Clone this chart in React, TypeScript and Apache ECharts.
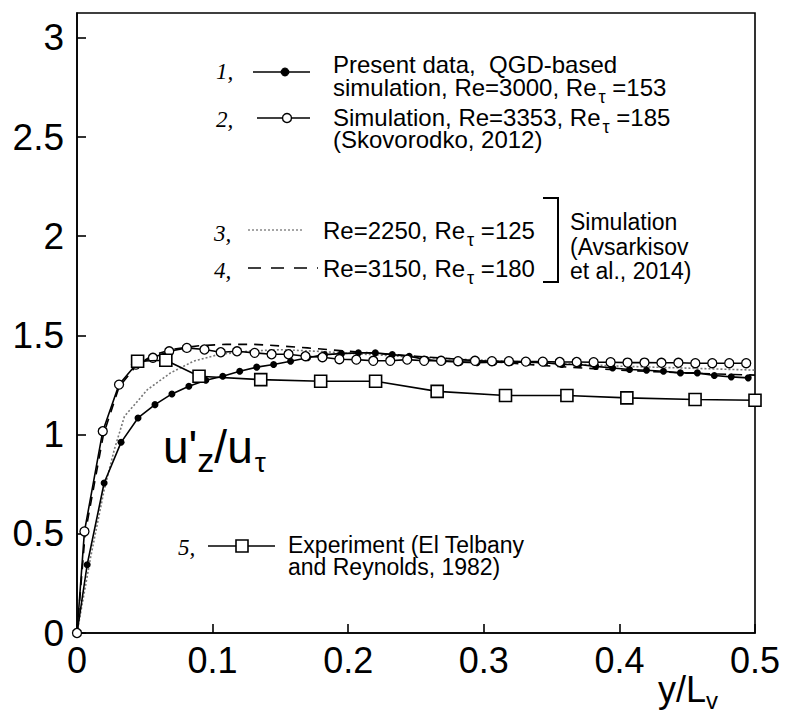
import React, { useEffect, useRef } from "react";
import * as echarts from "echarts";

// ---- data ----
// Series 1: present data (filled dots)
const s1X = [0, 0.0075, 0.02, 0.0325, 0.045, 0.0575, 0.07, 0.0825, 0.095, 0.1075, 0.12, 0.1325, 0.145, 0.1575, 0.17, 0.1825, 0.195, 0.2075, 0.22, 0.2325, 0.245, 0.2575, 0.27, 0.2825, 0.295, 0.3075, 0.32, 0.3325, 0.345, 0.3575, 0.37, 0.3825, 0.395, 0.4075, 0.42, 0.4325, 0.445, 0.4575, 0.47, 0.4825, 0.495];
const s1Y = [0, 0.344, 0.756, 0.961, 1.084, 1.151, 1.205, 1.244, 1.274, 1.294, 1.319, 1.34, 1.353, 1.37, 1.387, 1.403, 1.408, 1.412, 1.412, 1.403, 1.395, 1.378, 1.37, 1.365, 1.362, 1.365, 1.365, 1.365, 1.362, 1.353, 1.353, 1.344, 1.336, 1.328, 1.324, 1.319, 1.311, 1.311, 1.298, 1.291, 1.286];
// Series 2: Skovorodko 2012 (open circles)
const s2X = [0, 0.0055, 0.019, 0.031, 0.0435, 0.056, 0.068, 0.081, 0.094, 0.106, 0.118, 0.131, 0.1435, 0.156, 0.1685, 0.181, 0.1935, 0.206, 0.2185, 0.231, 0.2435, 0.256, 0.2685, 0.281, 0.2935, 0.306, 0.3185, 0.331, 0.3435, 0.356, 0.3685, 0.381, 0.3935, 0.406, 0.4185, 0.431, 0.4435, 0.456, 0.4685, 0.481, 0.4935];
const s2Y = [0, 0.512, 1.017, 1.252, 1.353, 1.387, 1.42, 1.437, 1.429, 1.415, 1.42, 1.412, 1.405, 1.405, 1.395, 1.39, 1.38, 1.378, 1.372, 1.372, 1.378, 1.372, 1.372, 1.37, 1.372, 1.37, 1.37, 1.368, 1.368, 1.366, 1.366, 1.365, 1.365, 1.363, 1.363, 1.362, 1.362, 1.36, 1.36, 1.36, 1.36];
// Series 3: Avsarkisov Re=2250 (dotted)
const s3X = [0, 0.01, 0.02, 0.0275, 0.035, 0.052, 0.069, 0.086, 0.104, 0.125, 0.15, 0.177, 0.2, 0.25, 0.3, 0.35, 0.4, 0.45, 0.5];
const s3Y = [0, 0.38, 0.72, 0.924, 1.092, 1.227, 1.311, 1.37, 1.403, 1.42, 1.428, 1.42, 1.41, 1.39, 1.375, 1.36, 1.345, 1.335, 1.325];
// Series 4: Avsarkisov Re=3150 (dashed)
const s4X = [0, 0.006, 0.0195, 0.031, 0.044, 0.056, 0.07, 0.09, 0.11, 0.13, 0.15, 0.17, 0.2, 0.25, 0.3, 0.35, 0.4, 0.45, 0.5];
const s4Y = [0, 0.5, 1.0, 1.24, 1.35, 1.4, 1.43, 1.448, 1.455, 1.455, 1.447, 1.437, 1.42, 1.395, 1.37, 1.345, 1.325, 1.31, 1.3];
// Series 5: experiment (open squares)
const s5X = [0.0447, 0.0655, 0.09, 0.1355, 0.1797, 0.2202, 0.2656, 0.316, 0.3613, 0.4055, 0.4558, 0.5];
const s5Y = [1.37, 1.375, 1.294, 1.277, 1.269, 1.269, 1.218, 1.197, 1.197, 1.185, 1.177, 1.173];

const xMin = 0, xMax = 0.5, xStep = 0.1;
const yMin = 0, yMax = 3.125, yStep = 0.5;

const legendTexts = {
  l1a: "Present data,  QGD-based",
  l1b: ["simulation, Re=3000, Re", "τ", " =153"],
  l2a: ["Simulation, Re=3353, Re", "τ", " =185"],
  l2b: "(Skovorodko, 2012)",
  l3: ["Re=2250, Re", "τ", " =125"],
  l4: ["Re=3150, Re", "τ", " =180"],
  br1: "Simulation",
  br2: "(Avsarkisov",
  br3: "et al., 2014)",
  l5a: "Experiment (El Telbany",
  l5b: "and Reynolds, 1982)",
};

const zip = (xs: number[], ys: number[]) => xs.map((x, i) => [x, ys[i]]);

const SANS = '"Liberation Sans", Arial, Helvetica, sans-serif';
const SERIF = '"Liberation Serif", "Times New Roman", serif';

function txt(x: number, y: number, text: string, extra: any = {}) {
  return {
    type: "text",
    x,
    y,
    silent: true,
    style: {
      text,
      fill: "#000",
      fontSize: 23,
      fontFamily: SANS,
      align: "left",
      textAlign: "left",
      verticalAlign: "middle",
      textVerticalAlign: "middle",
      ...extra,
    },
  };
}

function subTxt(x: number, y: number, parts: string[], size = 24, subSize = 18, pad = 20) {
  const text = `{a|${parts[0]}}{s|${parts[1]}}{a|${parts[2]}}`;
  return txt(x, y, text, {
    fontSize: size,
    lineHeight: size,
    rich: {
      a: { fontSize: size, fontFamily: SANS, fill: "#000", lineHeight: size },
      s: { fontSize: subSize, fontFamily: SANS, fill: "#000", padding: [pad, 0, 0, 2], lineHeight: size },
    },
  });
}

function num(x: number, y: number, t: string) {
  return txt(x, y, t, { fontFamily: SERIF, fontStyle: "italic", fontSize: 23 });
}

function seg(x1: number, y1: number, x2: number, y2: number, style: any = {}) {
  return {
    type: "line",
    silent: true,
    shape: { x1, y1, x2, y2 },
    style: { stroke: "#000", lineWidth: 1.6, ...style },
  };
}

export default function App() {
  const ref = useRef<HTMLDivElement>(null);
  useEffect(() => {
    if (!ref.current) return;
    const chart = echarts.init(ref.current, undefined, { renderer: "svg" });
    const axisCommon = {
      type: "value",
      axisLine: { show: true, lineStyle: { color: "#000", width: 1.6 } },
      axisTick: { show: true, inside: true, length: 9, lineStyle: { color: "#000", width: 1.6 } },
      splitLine: { show: false },
    };
    const option: any = {
      animation: false,
      backgroundColor: "#fff",
      grid: {
        left: 77,
        right: 30,
        top: 13,
        bottom: 80,
        show: true,
        borderColor: "#000",
        borderWidth: 1.6,
        backgroundColor: "transparent",
      },
      xAxis: {
        ...axisCommon,
        min: xMin,
        max: xMax,
        interval: xStep,
        axisLabel: {
          color: "#000",
          fontSize: 36,
          fontFamily: SANS,
          margin: 9,
          formatter: (v: number) => String(+v.toFixed(1)),
        },
      },
      yAxis: {
        ...axisCommon,
        min: yMin,
        max: yMax,
        interval: yStep,
        axisLabel: {
          color: "#000",
          fontSize: 37,
          fontFamily: SANS,
          margin: 13,
          showMaxLabel: false,
          formatter: (v: number) =>
            Math.abs(v / yStep - Math.round(v / yStep)) < 1e-6 ? String(+v.toFixed(1)) : "",
        },
      },
      series: [
        {
          type: "line",
          data: zip(s3X, s3Y),
          symbol: "none",
          silent: true,
          lineStyle: { color: "#777", width: 1.6, type: [2, 2] },
          z: 2,
        },
        {
          type: "line",
          data: zip(s4X, s4Y),
          symbol: "none",
          silent: true,
          lineStyle: { color: "#000", width: 1.6, type: [9, 7] },
          z: 2,
        },
        {
          type: "line",
          data: zip(s1X, s1Y),
          symbol: "circle",
          symbolSize: 7,
          silent: true,
          itemStyle: { color: "#000" },
          lineStyle: { color: "#000", width: 1.6 },
          z: 3,
        },
        {
          type: "line",
          data: zip(s2X, s2Y),
          symbol: "circle",
          symbolSize: 9,
          silent: true,
          itemStyle: { color: "#fff", borderColor: "#000", borderWidth: 1.3 },
          lineStyle: { color: "#000", width: 1.6 },
          z: 4,
        },
        {
          type: "line",
          data: zip(s5X, s5Y),
          symbol: "rect",
          symbolSize: 12,
          silent: true,
          itemStyle: { color: "#fff", borderColor: "#000", borderWidth: 1.6 },
          lineStyle: { color: "#000", width: 1.6 },
          z: 5,
        },
      ],
      graphic: [
        // legend 1
        num(216, 71, "1,"),
        seg(253, 72, 310, 72),
        { type: "circle", silent: true, shape: { cx: 285, cy: 72, r: 4 }, style: { fill: "#000", stroke: "#000" } },
        txt(333, 64, legendTexts.l1a, { fontSize: 24 }),
        subTxt(333, 87, legendTexts.l1b),
        // legend 2
        num(216, 119, "2,"),
        seg(257, 118, 310, 118),
        { type: "circle", silent: true, shape: { cx: 287, cy: 118, r: 4.5 }, style: { fill: "#fff", stroke: "#000", lineWidth: 1.4 } },
        subTxt(333, 117, legendTexts.l2a),
        txt(333, 139, legendTexts.l2b, { fontSize: 24 }),
        // legend 3
        num(214, 233, "3,"),
        seg(248, 230, 303, 230, { stroke: "#888", lineWidth: 1.4, lineDash: [2, 2] }),
        subTxt(323, 230, legendTexts.l3),
        // legend 4
        num(214, 270, "4,"),
        seg(248, 268, 318, 268, { lineDash: [13, 10] }),
        subTxt(323, 268, legendTexts.l4),
        // bracket
        {
          type: "polyline",
          silent: true,
          shape: { points: [[543, 198], [558, 198], [558, 282], [543, 282]] },
          style: { stroke: "#000", lineWidth: 2, fill: null },
        },
        txt(570, 222, legendTexts.br1),
        txt(570, 247, legendTexts.br2),
        txt(570, 271, legendTexts.br3),
        // legend 5
        num(178, 547, "5,"),
        seg(208, 546, 275, 546),
        { type: "rect", silent: true, shape: { x: 236, y: 540, width: 12, height: 12 }, style: { fill: "#fff", stroke: "#000", lineWidth: 1.6 } },
        txt(288, 545, legendTexts.l5a),
        txt(288, 567, legendTexts.l5b),
        // y-axis quantity label
        txt(163, 447, "{u|u'}{z|z}{u|/u}{t|τ}", {
          fontSize: 46,
          lineHeight: 46,
          rich: {
            u: { fontSize: 46, fontFamily: SANS, fill: "#000", lineHeight: 46 },
            z: { fontSize: 34, fontFamily: SANS, fill: "#000", padding: [26, 0, 0, 0], lineHeight: 46 },
            t: { fontSize: 28, fontFamily: SANS, fill: "#000", padding: [30, 0, 0, 2], lineHeight: 46 },
          },
        }),
        // x-axis quantity label
        txt(658, 689, "{a|y/L}{s|v}", {
          fontSize: 36,
          lineHeight: 36,
          rich: {
            a: { fontSize: 36, fontFamily: SANS, fill: "#000", lineHeight: 36 },
            s: { fontSize: 24, fontFamily: SANS, fill: "#000", padding: [22, 0, 0, 0], lineHeight: 36 },
          },
        }),
      ],
    };
    chart.setOption(option);
    return () => chart.dispose();
  }, []);
  return (
    <div
      ref={ref}
      style={{ position: "fixed", left: 0, top: 0, width: 785, height: 713, background: "#fff" }}
    />
  );
}
